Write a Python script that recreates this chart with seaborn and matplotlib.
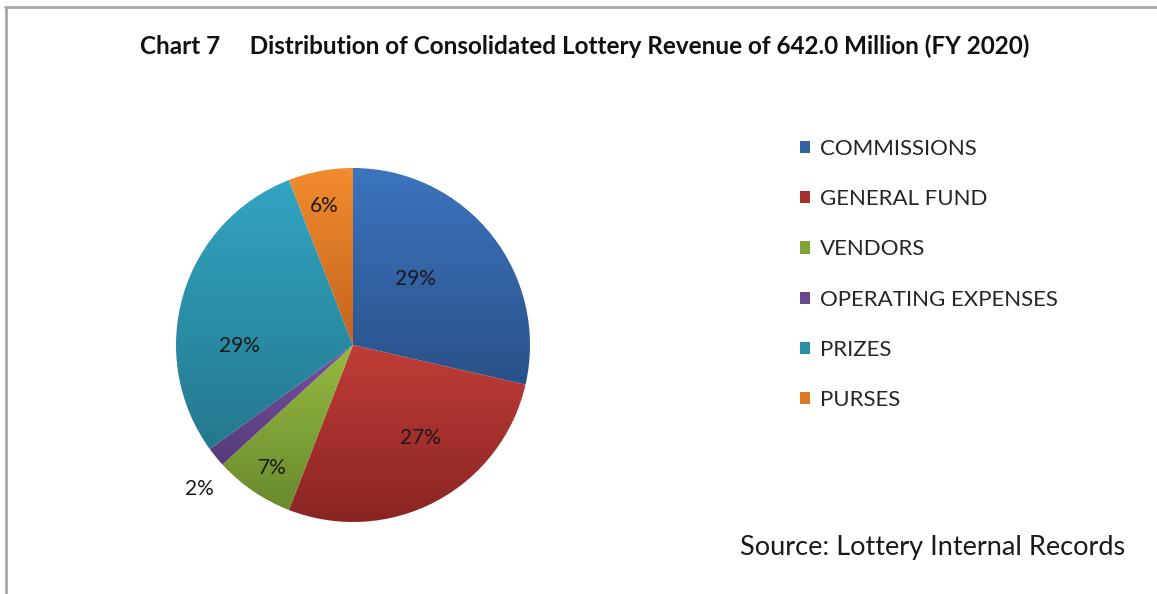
import numpy as np
import matplotlib
matplotlib.use("Agg")
import matplotlib.pyplot as plt
import seaborn as sns
from matplotlib.patches import Patch
from matplotlib.colors import LinearSegmentedColormap

# Share of consolidated lottery revenue (percent, FY 2020)
categories = ["COMMISSIONS", "GENERAL FUND", "VENDORS",
              "OPERATING EXPENSES", "PRIZES", "PURSES"]
shares = [28.6, 27.3, 7.3, 1.8, 29.1, 5.9]

# gradient colours per slice (top -> bottom)
light = ["#3b74be", "#c03c38", "#95ba41", "#7853a1", "#32a5c2", "#f28c2e"]
dark = ["#2a5189", "#8a2522", "#6a8a2d", "#553a78", "#24788e", "#c3621c"]

# label placement: radius (fraction of pie radius) and angle nudge (deg)
label_r = [0.51, 0.65, 0.83, 1.19, 0.64, 0.80]
label_nudge = [8, 8, 1, 4, 17, 1]

sns.set_theme(style="white")
plt.rcParams["font.family"] = ["Lato", "DejaVu Sans"]

fig = plt.figure(figsize=(11.57, 5.94), dpi=100)
fig.patch.set_facecolor("white")

ax = fig.add_axes([176 / 1157, 72 / 594, 354 / 1157, 354 / 594])
wedges, _ = ax.pie(shares, startangle=90, counterclock=False, radius=1,
                   wedgeprops=dict(linewidth=0))
ax.set_aspect("equal")
ax.axis("off")

# paint each slice with a vertical gradient clipped to the wedge
for w, c1, c2 in zip(wedges, light, dark):
    w.set_facecolor("none")
    bb = w.get_path().get_extents()
    cmap = LinearSegmentedColormap.from_list("g", [c2, c1])
    grad = np.linspace(0, 1, 256).reshape(-1, 1)
    im = ax.imshow(grad, cmap=cmap, origin="lower", aspect="auto",
                   extent=(bb.x0, bb.x1, bb.y0, bb.y1), zorder=1)
    im.set_clip_path(w)
ax.set_xlim(-1, 1)
ax.set_ylim(-1, 1)

# percentage labels
for w, s, r, nd in zip(wedges, shares, label_r, label_nudge):
    ang = np.deg2rad((w.theta1 + w.theta2) / 2 + nd)
    ax.text(r * np.cos(ang), r * np.sin(ang), f"{s:.0f}%",
            ha="center", va="center", fontsize=15, color="#1a1a1a", zorder=3)

# legend
handles = [Patch(facecolor=(np.array(matplotlib.colors.to_rgb(a)) +
                            np.array(matplotlib.colors.to_rgb(b))) / 2,
                 edgecolor="none") for a, b in zip(light, dark)]
fig.legend(handles, categories, loc="upper left",
           bbox_to_anchor=(780 / 1157, 1 - 119 / 594), frameon=False,
           fontsize=16, handlelength=0.47, handleheight=0.47,
           handletextpad=0.42, labelspacing=1.36, labelcolor="#262626")

fig.text(585 / 1157, 1 - 46 / 594,
         "Chart 7     Distribution of Consolidated Lottery Revenue of 642.0 Million (FY 2020)",
         ha="center", va="center", fontsize=17.5, fontweight="bold", color="#111111")
fig.text(1125 / 1157, 1 - 548 / 594, "Source: Lottery Internal Records",
         ha="right", va="center", fontsize=19.5, color="#1a1a1a")

# frame edges visible in the original
fig.add_artist(plt.Line2D([5 / 1157, 1], [1 - 7 / 594] * 2,
                          color="#a8a8a8", lw=2, transform=fig.transFigure))
fig.add_artist(plt.Line2D([6 / 1157] * 2, [0, 1 - 7 / 594],
                          color="#a8a8a8", lw=2, transform=fig.transFigure))

fig.savefig("out.png", dpi=100, facecolor="white")
